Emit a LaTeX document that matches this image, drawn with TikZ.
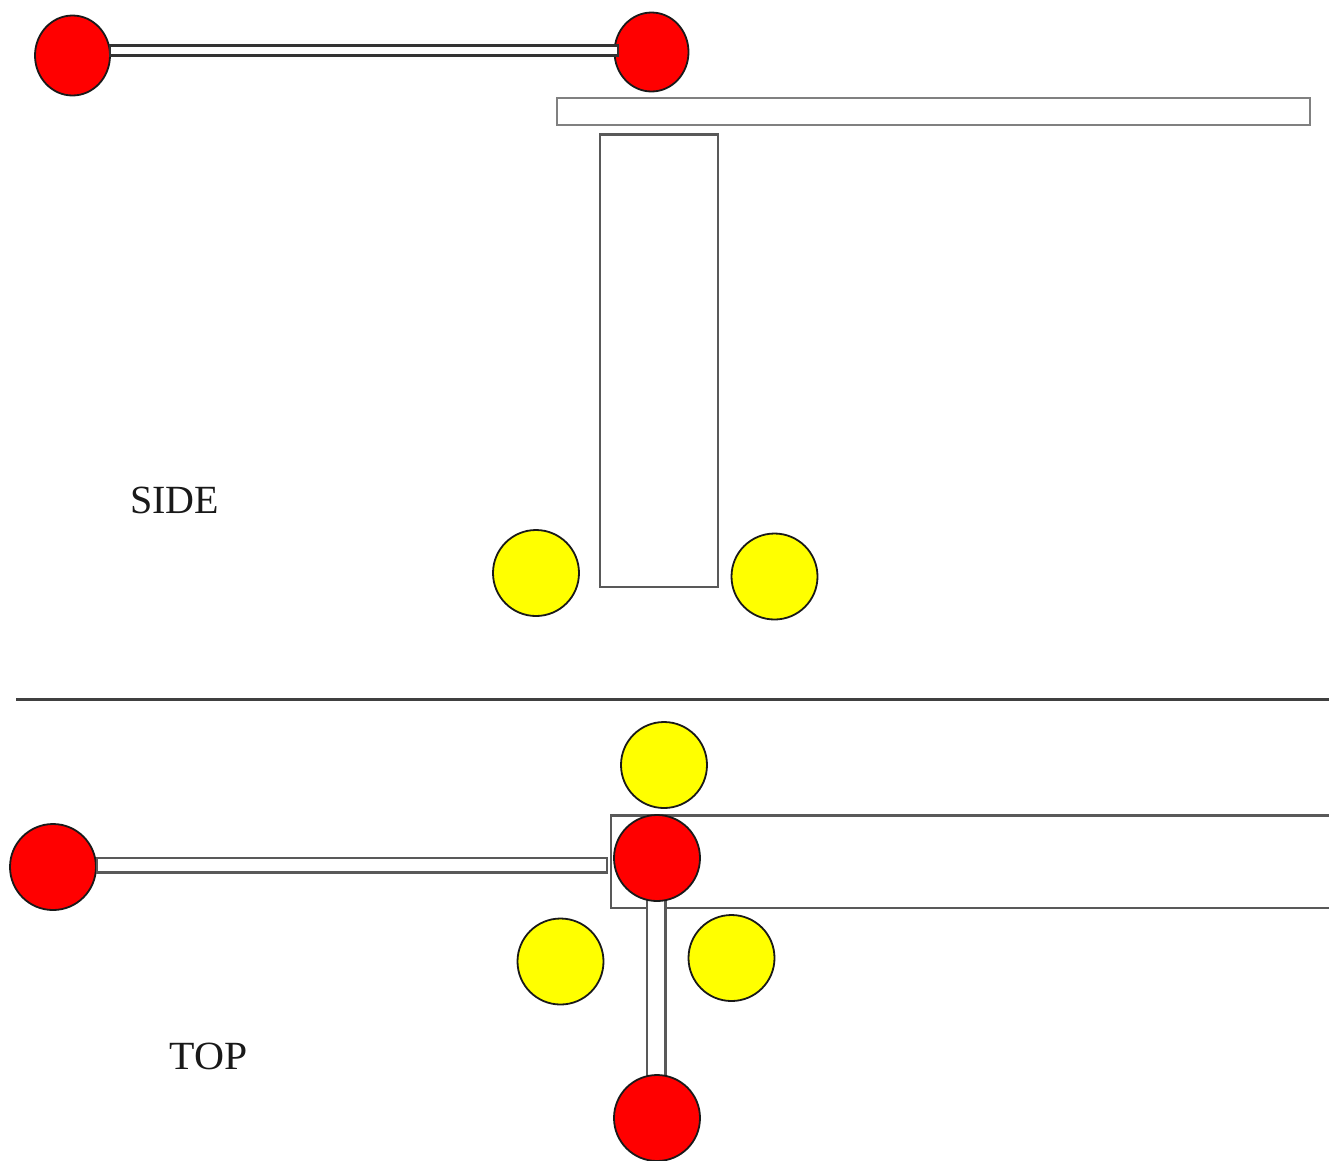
\documentclass[tikz,border=0pt]{standalone}
\usepackage{fontspec}
\setmainfont{Liberation Serif}
\usetikzlibrary{shapes.geometric}
\definecolor{ballyellow}{rgb}{1,1,0}
\definecolor{ballred}{rgb}{1,0,0}
\tikzset{
  ball/.style={ellipse,draw=black!90,line width=1.8pt,inner sep=0pt,minimum width=#1},
  redball/.style={ball=86pt,minimum height=86pt,fill=ballred},
  yellowball/.style={ball=86pt,minimum height=86pt,fill=ballyellow},
  outline/.style={draw=black!65,line width=2.6pt,fill=white},
  label/.style={font=\fontsize{40}{40}\selectfont,text=black!90,inner sep=0pt}
}
\begin{document}
\begin{tikzpicture}[x=1pt,y=-1pt]
\useasboundingbox (0,0) rectangle (1329,1160);
\clip (0,0) rectangle (1329,1160);
% side view
\node[redball,minimum width=75pt,minimum height=80pt] (sideL) at (72.5,55.5) {};
\node[redball,minimum width=74pt,minimum height=79pt] (sideR) at (651.5,52) {};
\draw[draw=black!80,line width=2.2pt,fill=white] (110,45.5) rectangle (618,55.5);
\draw[draw=black!50,line width=2pt,fill=white] (556.5,98) rectangle (1310,125);
\draw[outline] (600,134.5) rectangle (718,587);
\node[yellowball] (y1) at (536,573) {};
\node[yellowball] (y2) at (774.5,576.5) {};
\node[label] (side) at (174.5,500) {SIDE};
% divider
\coordinate (divL) at (16,699.5);
\coordinate (divR) at (1329,699.5);
\draw[draw=black!75,line width=2.2pt] (divL) -- (divR);
% top view
\node[yellowball] (y3) at (664,765) {};
\draw[outline] (1340,815.5) -- (611,815.5) -- (611,908) -- (1340,908);
\node[redball] (topL) at (53,867) {};
\draw[outline] (97,858) rectangle (607,872.5);
\draw[outline] (647,895) rectangle (665.5,1082);
\node[redball] (topC) at (657,858) {};
\node[redball] (topB) at (657,1118) {};
\node[yellowball] (y4) at (560.5,961.5) {};
\node[yellowball] (y5) at (731.5,958) {};
\node[label,xscale=1.04,transform shape] (top) at (208.5,1056) {TOP};
\end{tikzpicture}
\end{document}
